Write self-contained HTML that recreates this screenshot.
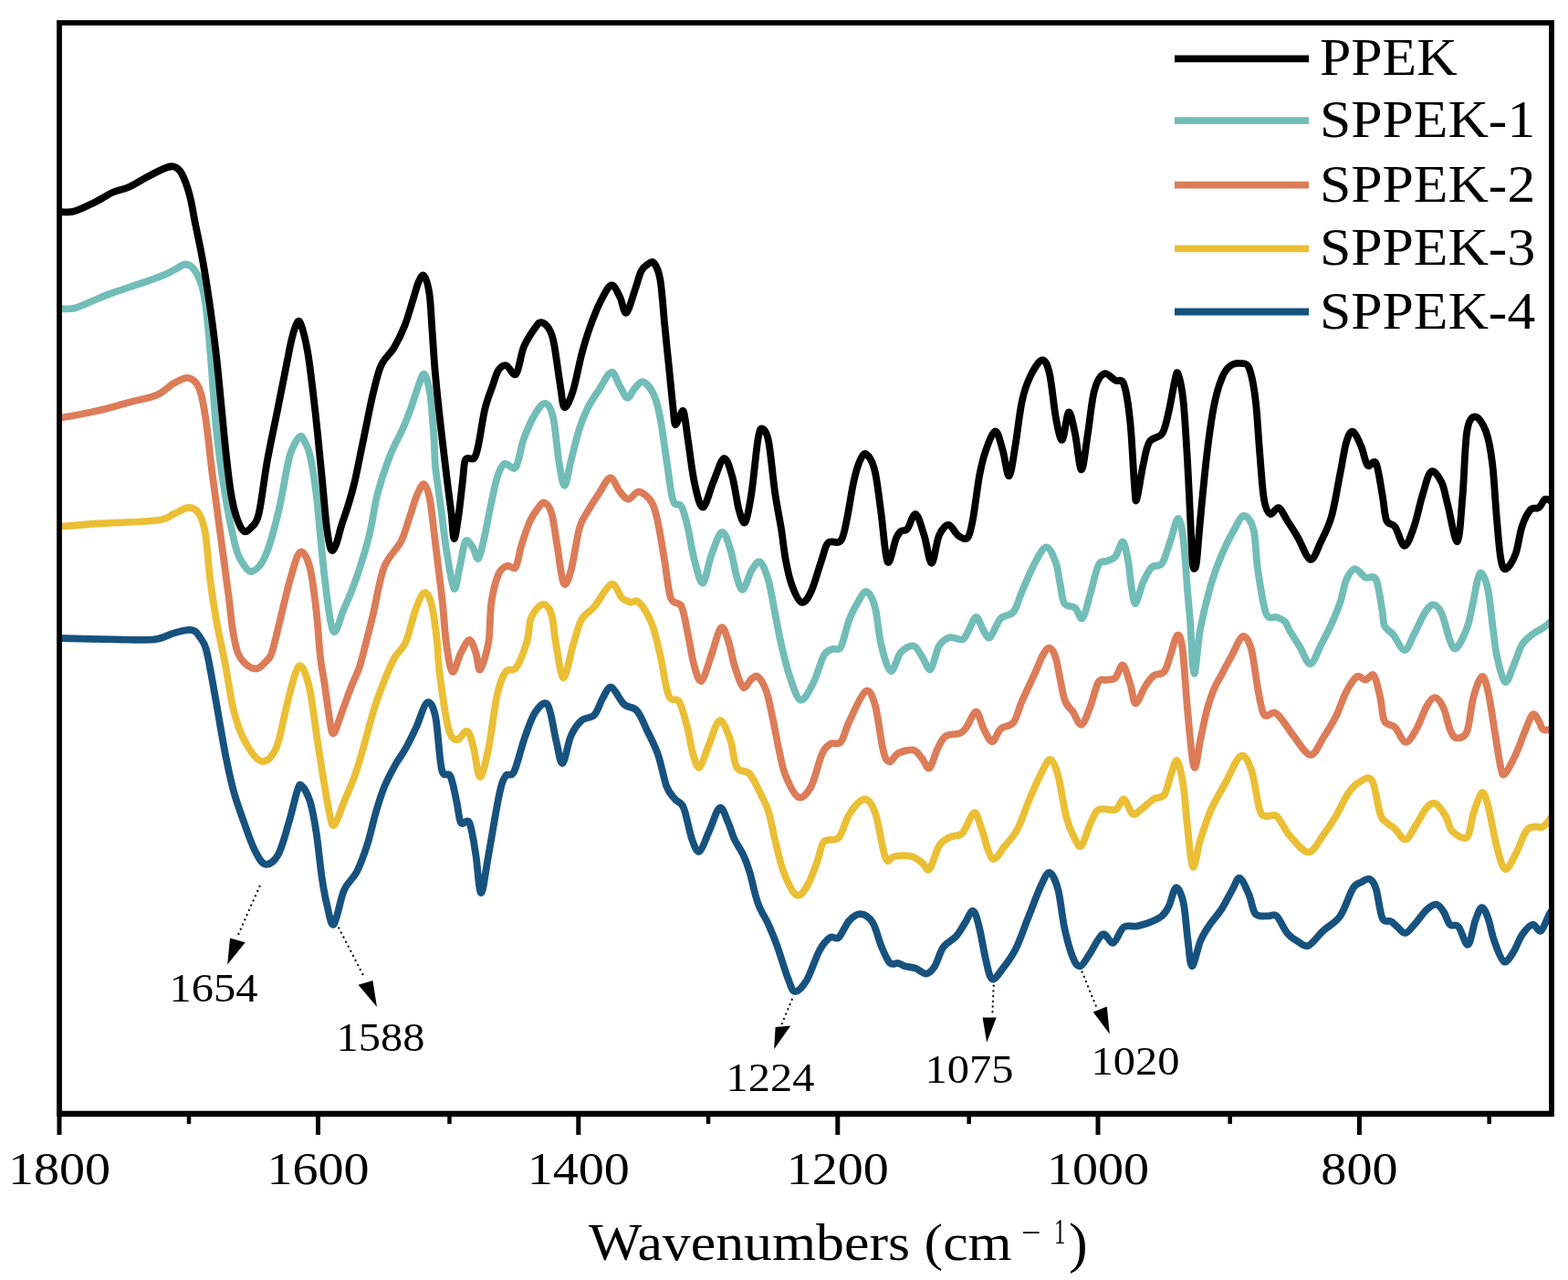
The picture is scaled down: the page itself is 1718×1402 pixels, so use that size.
<!DOCTYPE html><html><head><meta charset="utf-8"><style>html,body{margin:0;padding:0;background:#fff}svg{display:block}</style></head><body><svg width="1718" height="1402" viewBox="0 0 1718 1402">
<rect width="1718" height="1402" fill="#fff"/>
<defs><clipPath id="pc"><rect x="65" y="25" width="1635" height="1195"/></clipPath></defs>
<g clip-path="url(#pc)" fill="none" stroke-width="7.8" stroke-linejoin="round" stroke-linecap="round">
<path d="M65.0,699.0 C75.0,699.2 107.8,700.1 125.2,700.3 C142.6,700.5 158.5,701.4 169.4,700.3 C180.3,699.1 184.2,695.1 190.4,693.4 C196.6,691.7 202.8,690.2 206.7,689.9 C210.6,689.6 212.1,690.4 214.0,691.6 C215.9,692.8 216.4,693.8 218.3,696.9 C220.2,700.0 223.2,702.2 225.6,710.3 C228.0,718.3 230.3,732.8 232.6,745.2 C234.9,757.6 237.3,771.6 239.6,784.8 C241.9,798.0 243.9,810.8 246.6,824.4 C249.3,838.0 252.4,853.5 255.9,866.3 C259.4,879.1 263.6,890.3 267.5,901.2 C271.4,912.1 275.3,923.9 279.2,931.5 C283.1,939.1 286.5,945.8 290.8,946.6 C295.1,947.4 300.5,943.7 304.8,936.1 C309.1,928.5 312.9,912.8 316.4,901.2 C319.9,889.6 323.4,873.1 325.7,866.3 C328.0,859.5 328.1,858.5 330.4,860.4 C332.7,862.3 337.0,869.2 339.7,877.9 C342.4,886.6 344.6,899.1 346.7,912.8 C348.8,926.5 350.6,947.1 352.5,960.0 C354.4,972.9 355.8,981.2 358.0,990.0 C360.2,998.8 362.4,1015.1 365.6,1012.6 C368.8,1010.1 372.8,984.6 377.0,975.0 C381.2,965.4 386.7,963.1 391.0,954.7 C395.3,946.3 399.1,935.4 402.6,924.5 C406.1,913.6 408.8,900.0 411.9,889.5 C415.0,879.0 417.7,870.1 421.2,861.6 C424.7,853.1 428.9,845.3 432.8,838.3 C436.7,831.3 440.6,826.7 444.5,819.7 C448.4,812.7 452.2,804.8 456.1,796.4 C460.0,788.0 464.3,771.5 467.8,769.6 C471.3,767.7 474.4,772.6 477.1,784.8 C479.8,797.0 481.3,832.1 484.0,843.0 C486.7,853.9 490.7,844.2 493.4,850.0 C496.1,855.8 498.4,869.4 500.3,877.9 C502.2,886.4 502.7,897.3 505.0,901.2 C507.3,905.1 511.6,895.4 514.3,901.2 C517.0,907.0 519.2,923.3 521.3,936.1 C523.4,948.9 524.8,978.0 527.1,978.0 C529.4,978.0 532.0,954.0 535.3,936.1 C538.6,918.2 543.8,885.2 546.9,870.9 C550.0,856.5 551.2,854.3 553.9,850.0 C556.6,845.7 559.7,852.3 563.2,845.3 C566.7,838.3 571.0,818.9 574.9,808.0 C578.8,797.1 582.3,786.1 586.5,780.1 C590.7,774.1 596.2,766.9 600.0,772.0 C603.8,777.1 606.6,800.3 609.3,811.0 C612.0,821.7 613.6,836.8 616.3,836.0 C619.0,835.2 622.1,813.8 625.6,806.0 C629.1,798.2 633.0,792.8 637.3,789.0 C641.6,785.2 647.3,787.2 651.2,783.1 C655.1,779.0 657.4,769.5 660.5,764.5 C663.6,759.5 665.9,751.6 669.8,752.8 C673.7,754.0 679.1,767.2 683.8,771.5 C688.5,775.8 693.5,773.5 697.8,778.4 C702.1,783.3 705.5,792.9 709.4,801.0 C713.3,809.1 717.6,816.9 721.1,827.0 C724.6,837.1 727.3,853.4 730.4,861.5 C733.5,869.6 736.6,871.6 739.7,875.5 C742.8,879.4 745.9,877.4 749.0,884.8 C752.1,892.2 755.4,911.8 758.3,919.7 C761.2,927.7 763.4,934.0 766.5,932.5 C769.6,931.0 773.3,918.4 777.0,910.4 C780.7,902.4 785.1,886.3 788.6,884.8 C792.1,883.2 795.2,895.3 797.9,901.1 C800.6,906.9 802.2,913.9 804.9,919.7 C807.6,925.5 811.5,930.2 814.2,936.0 C816.9,941.8 818.5,945.7 821.2,954.6 C823.9,963.5 827.0,979.8 830.5,989.5 C834.0,999.2 838.6,1005.0 842.1,1012.8 C845.6,1020.6 848.0,1026.4 851.5,1036.1 C855.0,1045.8 859.9,1062.7 863.1,1071.0 C866.4,1079.3 867.5,1085.6 871.0,1086.0 C874.5,1086.4 879.5,1080.9 884.0,1073.4 C888.5,1065.9 893.7,1048.6 898.0,1040.8 C902.3,1033.0 906.2,1029.1 909.7,1026.8 C913.2,1024.5 915.5,1029.9 919.0,1026.8 C922.5,1023.7 926.5,1012.5 930.6,1008.2 C934.7,1003.9 939.1,1000.8 943.4,1001.2 C947.7,1001.6 952.5,1004.7 956.2,1010.5 C959.9,1016.3 962.4,1028.7 965.5,1036.1 C968.6,1043.5 971.8,1051.5 974.9,1054.7 C978.0,1057.9 981.4,1054.4 984.2,1055.0 C987.0,1055.6 988.4,1057.3 991.6,1058.3 C994.8,1059.2 999.4,1059.3 1003.3,1060.7 C1007.2,1062.1 1011.4,1066.9 1014.9,1066.5 C1018.4,1066.1 1021.1,1063.1 1024.2,1058.3 C1027.3,1053.5 1029.7,1042.8 1033.6,1037.4 C1037.5,1032.0 1043.6,1030.0 1047.5,1025.7 C1051.4,1021.4 1053.7,1016.4 1056.8,1011.8 C1059.9,1007.1 1063.4,997.0 1066.1,997.8 C1068.8,998.6 1070.8,1007.5 1073.1,1016.4 C1075.4,1025.3 1077.8,1042.0 1080.1,1051.3 C1082.4,1060.6 1084.0,1070.7 1087.1,1072.3 C1090.2,1073.9 1094.4,1066.1 1098.7,1060.7 C1103.0,1055.3 1108.0,1049.0 1112.7,1039.7 C1117.4,1030.4 1122.0,1016.4 1126.7,1004.8 C1131.4,993.1 1136.8,977.9 1140.7,969.8 C1144.6,961.6 1146.9,955.1 1150.0,955.9 C1153.1,956.7 1156.6,964.4 1159.3,974.5 C1162.0,984.6 1163.6,1004.0 1166.3,1016.4 C1169.0,1028.8 1172.7,1042.0 1175.6,1049.0 C1178.5,1056.0 1180.6,1059.1 1183.7,1058.3 C1186.8,1057.5 1190.1,1050.2 1194.2,1044.4 C1198.3,1038.6 1203.9,1025.3 1208.2,1023.4 C1212.5,1021.4 1215.9,1034.0 1219.8,1032.7 C1223.7,1031.4 1226.8,1018.4 1231.5,1015.3 C1236.2,1012.2 1241.1,1015.9 1247.7,1014.1 C1254.3,1012.4 1265.5,1008.3 1271.0,1004.8 C1276.5,1001.3 1277.5,998.5 1280.4,993.1 C1283.3,987.7 1285.8,973.0 1288.5,972.2 C1291.2,971.4 1294.5,979.2 1296.6,988.5 C1298.7,997.8 1299.7,1016.4 1301.3,1028.0 C1302.9,1039.6 1303.7,1057.9 1306.0,1058.3 C1308.3,1058.7 1312.2,1037.8 1315.3,1030.4 C1318.4,1023.0 1320.7,1019.9 1324.6,1014.1 C1328.5,1008.3 1334.3,1002.1 1338.6,995.5 C1342.9,988.9 1346.9,980.1 1350.2,974.5 C1353.5,968.9 1355.2,960.8 1358.3,961.7 C1361.4,962.7 1365.7,973.6 1368.6,980.2 C1371.5,986.8 1372.1,997.2 1375.6,1001.1 C1379.1,1005.0 1385.6,1003.0 1389.5,1003.4 C1393.4,1003.8 1395.3,1000.3 1398.8,1003.4 C1402.3,1006.5 1406.4,1017.3 1410.3,1021.9 C1414.2,1026.5 1418.0,1028.9 1421.9,1031.2 C1425.8,1033.5 1428.9,1037.7 1433.5,1035.8 C1438.1,1033.9 1443.9,1025.0 1449.7,1019.6 C1455.5,1014.2 1462.9,1011.1 1468.3,1003.4 C1473.7,995.7 1478.3,979.5 1482.2,973.3 C1486.1,967.1 1488.3,968.0 1491.4,966.3 C1494.5,964.6 1498.0,961.7 1500.7,962.9 C1503.4,964.1 1505.3,966.2 1507.6,973.3 C1509.9,980.4 1511.9,999.7 1514.6,1005.7 C1517.3,1011.7 1521.2,1007.7 1523.9,1009.2 C1526.6,1010.8 1528.1,1012.9 1530.8,1015.0 C1533.5,1017.1 1536.6,1022.7 1540.1,1021.9 C1543.6,1021.1 1547.8,1014.5 1551.7,1010.3 C1555.6,1006.0 1559.5,999.7 1563.2,996.4 C1566.9,993.1 1570.6,990.3 1573.7,990.7 C1576.8,991.1 1579.3,995.1 1581.8,998.8 C1584.3,1002.5 1586.0,1010.0 1588.7,1012.7 C1591.4,1015.4 1594.7,1011.3 1598.0,1015.0 C1601.3,1018.7 1605.3,1035.9 1608.4,1034.7 C1611.5,1033.5 1614.0,1014.8 1616.5,1008.0 C1619.0,1001.2 1621.2,994.5 1623.5,994.1 C1625.8,993.7 1628.1,999.5 1630.4,1005.7 C1632.7,1011.9 1634.5,1023.3 1637.4,1031.2 C1640.3,1039.1 1644.3,1051.3 1647.8,1053.2 C1651.3,1055.1 1654.9,1047.6 1658.2,1042.8 C1661.5,1038.0 1664.0,1029.2 1667.5,1024.2 C1671.0,1019.2 1675.6,1013.5 1679.1,1012.7 C1682.6,1011.9 1685.2,1021.5 1688.3,1019.6 C1691.4,1017.7 1695.6,1004.7 1697.6,1001.1 C1699.5,997.5 1699.6,998.5 1700.0,998.0" stroke="#17527f"/>
<path d="M65.0,577.0 C71.9,576.4 88.8,574.7 106.6,573.5 C124.4,572.3 157.8,571.8 171.8,570.0 C185.8,568.2 184.6,565.3 190.4,563.0 C196.2,560.7 202.0,556.0 206.7,556.0 C211.3,556.0 215.2,558.0 218.3,563.0 C221.4,568.0 223.4,574.7 225.3,586.3 C227.2,597.9 228.1,617.3 230.0,632.8 C231.9,648.3 234.2,663.8 237.0,679.4 C239.8,695.0 243.4,710.2 246.6,726.6 C249.8,743.0 252.4,763.8 255.9,777.8 C259.4,791.8 262.5,801.1 267.5,810.4 C272.5,819.7 280.3,832.2 286.1,833.7 C291.9,835.2 297.7,829.8 302.4,819.7 C307.1,809.6 310.6,786.7 314.1,773.1 C317.6,759.5 320.7,745.4 323.4,738.2 C326.1,731.0 327.7,727.0 330.4,730.1 C333.1,733.2 336.6,741.9 339.7,756.8 C342.8,771.7 345.5,797.6 349.0,819.7 C352.5,841.8 357.8,875.5 360.7,889.5 C363.6,903.5 363.8,905.4 366.5,903.5 C369.2,901.6 373.3,886.8 377.0,877.9 C380.7,869.0 385.1,859.7 388.6,850.0 C392.1,840.3 394.4,831.7 397.9,819.7 C401.4,807.7 405.6,790.2 409.5,777.8 C413.4,765.4 417.4,754.8 421.2,745.2 C425.0,735.6 428.6,727.0 432.5,720.0 C436.4,713.0 440.7,711.9 444.5,703.3 C448.3,694.7 451.8,677.3 455.1,668.3 C458.4,659.3 461.6,650.8 464.5,649.5 C467.4,648.2 470.0,652.1 472.4,660.5 C474.8,668.9 477.1,687.0 478.6,700.0 C480.2,713.0 479.6,722.1 481.7,738.2 C483.8,754.3 487.9,784.4 491.0,796.4 C494.1,808.4 496.8,809.6 500.3,810.4 C503.8,811.2 508.9,799.5 512.0,801.0 C515.1,802.5 516.7,811.4 519.0,819.7 C521.3,828.1 523.3,851.1 526.0,851.1 C528.7,851.1 532.2,834.6 535.3,819.7 C538.4,804.8 541.5,775.5 544.6,761.5 C547.7,747.5 550.4,740.9 553.9,735.9 C557.4,730.9 561.6,736.6 565.5,731.2 C569.4,725.8 574.4,712.5 577.2,703.3 C580.0,694.1 579.3,683.0 582.2,676.1 C585.1,669.2 591.1,662.5 594.8,662.0 C598.5,661.5 601.8,665.6 604.2,673.0 C606.6,680.4 607.1,694.7 609.3,706.3 C611.5,717.9 614.4,742.4 617.5,742.4 C620.6,742.4 624.6,717.0 627.9,706.3 C631.2,695.6 633.4,685.3 637.3,678.3 C641.2,671.3 645.8,670.8 651.2,664.4 C656.6,658.0 664.8,641.5 669.8,639.9 C674.8,638.3 678.0,651.7 681.5,655.0 C685.0,658.3 687.7,658.9 690.8,659.7 C693.9,660.5 696.2,655.8 700.1,659.7 C704.0,663.6 710.2,673.3 714.1,683.0 C718.0,692.7 720.3,704.7 723.4,717.9 C726.5,731.1 729.2,753.6 732.7,762.1 C736.2,770.6 740.9,762.9 744.4,769.1 C747.9,775.3 751.3,790.1 753.7,799.4 C756.1,808.7 756.9,818.1 759.0,825.0 C761.1,831.9 763.5,842.2 766.5,840.5 C769.5,838.8 773.3,823.4 777.0,814.9 C780.7,806.4 784.7,790.1 788.6,789.3 C792.5,788.5 797.1,801.8 800.2,810.3 C803.3,818.8 803.7,834.3 807.2,840.5 C810.7,846.7 816.9,842.8 821.2,847.5 C825.5,852.2 829.3,861.5 832.8,868.5 C836.3,875.5 839.4,880.9 842.1,889.4 C844.8,897.9 846.4,908.8 849.1,919.7 C851.8,930.6 854.5,944.5 858.4,954.6 C862.3,964.7 868.1,977.5 872.4,980.2 C876.7,982.9 880.1,977.1 884.0,970.9 C887.9,964.7 892.6,951.1 895.7,943.0 C898.8,934.9 898.8,926.3 902.7,922.0 C906.6,917.7 914.4,922.4 919.0,917.4 C923.6,912.4 926.0,898.8 930.6,891.8 C935.2,884.8 942.2,875.9 946.9,875.5 C951.6,875.1 955.1,880.1 958.6,889.4 C962.1,898.7 965.6,922.4 967.9,931.3 C970.2,940.2 970.5,941.9 972.5,943.0 C974.5,944.1 975.6,938.8 980.0,938.0 C984.4,937.2 993.6,936.8 998.6,938.0 C1003.6,939.2 1007.0,942.7 1010.3,945.0 C1013.6,947.3 1015.3,955.1 1018.4,952.0 C1021.5,948.9 1025.2,932.2 1028.9,926.4 C1032.6,920.6 1036.2,919.4 1040.5,917.1 C1044.8,914.8 1050.0,916.9 1054.5,912.4 C1059.0,907.9 1063.8,891.1 1067.3,890.3 C1070.8,889.5 1072.2,899.5 1075.5,907.8 C1078.8,916.1 1082.8,937.2 1087.1,940.3 C1091.4,943.4 1096.4,931.8 1101.1,926.4 C1105.8,921.0 1110.3,916.7 1115.0,907.8 C1119.7,898.9 1124.3,883.7 1129.0,872.8 C1133.7,861.9 1139.3,849.4 1143.0,842.6 C1146.7,835.8 1148.4,831.0 1151.1,832.1 C1153.8,833.2 1156.4,838.8 1159.3,849.5 C1162.2,860.2 1165.5,884.5 1168.6,896.1 C1171.7,907.8 1175.2,914.4 1177.9,919.4 C1180.6,924.4 1182.2,929.1 1184.9,926.4 C1187.6,923.7 1191.1,909.7 1194.2,903.1 C1197.3,896.5 1198.8,889.5 1203.5,886.8 C1208.2,884.1 1217.4,888.7 1222.1,886.8 C1226.8,884.9 1228.4,874.4 1231.5,875.2 C1234.6,876.0 1237.7,889.6 1240.8,891.5 C1243.9,893.4 1246.2,889.5 1250.1,886.8 C1254.0,884.1 1259.7,877.9 1264.0,875.2 C1268.3,872.5 1272.6,874.8 1275.7,870.5 C1278.8,866.2 1280.4,855.7 1282.7,849.5 C1285.0,843.3 1287.4,831.2 1289.7,833.2 C1292.0,835.2 1294.7,848.8 1296.6,861.2 C1298.5,873.6 1299.5,893.0 1301.3,907.8 C1303.0,922.5 1304.8,947.8 1307.1,949.7 C1309.4,951.6 1312.0,929.9 1315.3,919.4 C1318.6,908.9 1322.2,897.3 1326.9,886.8 C1331.6,876.3 1337.8,866.3 1343.2,856.5 C1348.6,846.7 1354.8,830.1 1359.5,828.0 C1364.2,825.9 1367.8,834.2 1371.2,844.0 C1374.7,853.8 1377.5,878.7 1380.2,887.0 C1382.9,895.3 1384.1,892.8 1387.2,894.0 C1390.3,895.2 1394.5,890.5 1398.8,894.0 C1403.0,897.5 1406.9,908.2 1412.7,914.8 C1418.5,921.4 1427.3,933.4 1433.5,933.4 C1439.7,933.4 1444.7,921.4 1449.7,914.8 C1454.7,908.2 1459.0,901.7 1463.6,894.0 C1468.2,886.3 1473.2,874.7 1477.5,868.5 C1481.8,862.3 1484.8,859.2 1489.1,856.9 C1493.3,854.6 1499.1,848.8 1503.0,854.6 C1506.9,860.4 1509.6,884.0 1512.3,891.7 C1515.0,899.4 1516.5,898.2 1519.2,900.9 C1521.9,903.6 1525.0,904.8 1528.5,907.9 C1532.0,911.0 1536.2,920.3 1540.1,919.5 C1544.0,918.7 1547.8,909.0 1551.7,903.2 C1555.6,897.4 1559.7,888.6 1563.2,884.7 C1566.7,880.9 1569.0,878.6 1572.5,880.1 C1576.0,881.6 1581.0,889.0 1584.1,894.0 C1587.2,899.0 1587.1,906.4 1591.0,910.2 C1594.9,914.1 1603.4,920.2 1607.3,917.1 C1611.2,914.0 1611.5,899.8 1614.2,891.7 C1616.9,883.6 1620.8,870.0 1623.5,868.5 C1626.2,867.0 1627.7,872.8 1630.4,882.4 C1633.1,892.0 1636.6,914.8 1639.7,926.4 C1642.8,938.0 1645.5,950.3 1649.0,951.9 C1652.5,953.5 1656.7,942.7 1660.5,935.7 C1664.3,928.8 1668.6,915.2 1672.1,910.2 C1675.6,905.2 1678.3,906.4 1681.4,905.6 C1684.5,904.8 1687.6,907.4 1690.7,905.6 C1693.8,903.8 1698.5,896.8 1700.0,895.0" stroke="#ebbf35"/>
<path d="M65.0,458.0 C71.9,456.7 93.8,452.9 106.6,450.0 C119.3,447.1 130.6,443.6 141.5,440.7 C152.4,437.8 163.7,436.1 171.8,432.6 C180.0,429.1 184.6,422.9 190.4,419.8 C196.2,416.7 202.0,413.0 206.7,414.0 C211.3,415.0 215.2,418.2 218.3,425.6 C221.4,433.0 223.0,443.1 225.3,458.2 C227.6,473.3 229.6,495.0 232.3,516.4 C235.0,537.8 238.5,563.0 241.6,586.3 C244.7,609.6 248.7,638.8 250.9,656.1 C253.1,673.4 253.4,680.2 255.0,690.0 C256.6,699.8 258.0,708.6 260.5,714.9 C263.0,721.2 266.5,725.1 270.0,728.0 C273.5,730.9 278.0,732.9 281.5,732.4 C285.0,731.9 288.3,727.9 291.0,725.0 C293.7,722.1 295.2,722.5 297.8,714.9 C300.4,707.3 303.4,693.1 306.8,679.4 C310.2,665.7 314.7,645.2 318.4,632.8 C322.1,620.4 325.4,606.8 328.9,604.9 C332.4,603.0 336.5,610.7 339.4,621.2 C342.3,631.7 344.5,651.2 346.4,667.7 C348.3,684.2 349.6,707.1 351.0,720.0 C352.4,732.9 353.4,734.2 355.0,745.0 C356.6,755.8 359.0,775.1 360.7,784.8 C362.4,794.5 363.0,804.2 365.3,803.4 C367.6,802.6 371.5,788.2 374.6,780.1 C377.7,772.0 380.7,762.9 383.9,754.5 C387.1,746.1 391.0,739.1 394.0,730.0 C397.0,720.9 399.5,709.7 402.0,700.0 C404.5,690.3 405.9,685.1 409.0,672.0 C412.1,658.9 415.8,634.4 420.9,621.2 C426.0,608.0 434.8,602.1 439.4,593.0 C444.0,583.9 445.9,574.7 448.8,566.3 C451.7,557.9 454.1,548.8 456.7,542.8 C459.3,536.8 462.1,529.7 464.5,530.2 C466.9,530.7 469.0,537.3 470.8,545.9 C472.6,554.5 473.9,569.5 475.5,582.0 C477.1,594.5 478.6,608.1 480.2,621.2 C481.8,634.3 483.4,646.5 484.9,660.5 C486.4,674.5 487.2,692.4 489.0,705.0 C490.8,717.6 493.0,734.2 495.7,735.9 C498.4,737.5 501.9,720.7 505.0,714.9 C508.1,709.1 511.6,701.0 514.3,701.0 C517.0,701.0 519.3,709.5 521.3,714.9 C523.2,720.3 523.7,735.5 526.0,733.6 C528.3,731.7 533.2,715.5 535.3,703.3 C537.3,691.1 536.5,672.9 538.3,660.5 C540.1,648.1 543.2,635.9 546.1,629.1 C549.0,622.3 552.4,621.0 555.5,619.7 C558.6,618.4 562.4,624.9 565.0,621.2 C567.6,617.5 568.6,606.1 571.2,597.7 C573.8,589.3 577.5,578.0 580.6,571.0 C583.7,564.0 587.4,559.4 590.0,556.0 C592.6,552.6 593.9,549.7 596.3,550.6 C598.7,551.5 601.8,553.8 604.2,561.6 C606.6,569.5 608.3,584.9 610.5,597.7 C612.7,610.6 615.0,634.2 617.5,638.7 C620.0,643.2 622.7,634.9 625.6,624.8 C628.5,614.7 631.8,589.1 634.9,578.2 C638.0,567.3 640.7,565.8 644.2,559.6 C647.7,553.4 651.8,547.0 655.9,541.0 C660.0,535.0 664.8,523.9 668.7,523.5 C672.6,523.1 675.9,534.7 679.2,538.6 C682.5,542.5 685.0,546.8 688.5,546.8 C692.0,546.8 695.8,538.0 700.1,538.6 C704.4,539.2 710.6,544.5 714.1,550.3 C717.6,556.1 718.8,563.1 721.1,573.6 C723.4,584.1 725.7,599.5 728.0,613.1 C730.3,626.7 731.9,646.5 735.0,655.0 C738.1,663.5 743.6,657.8 746.7,664.4 C749.8,671.0 751.4,683.8 753.7,694.6 C756.0,705.5 758.2,721.0 760.7,729.5 C763.2,738.0 765.7,747.7 768.8,745.8 C771.9,743.9 775.8,727.6 779.3,717.9 C782.8,708.2 786.7,690.3 789.8,687.6 C792.9,684.9 795.4,694.6 797.9,701.6 C800.4,708.6 802.2,721.0 804.9,729.5 C807.6,738.0 811.1,750.5 814.2,752.8 C817.3,755.1 820.8,745.4 823.5,743.5 C826.2,741.6 827.8,738.9 830.5,741.2 C833.2,743.5 837.1,749.8 839.8,757.5 C842.5,765.2 844.5,776.8 846.8,787.7 C849.1,798.6 851.5,812.4 853.8,822.7 C856.1,833.1 857.3,841.4 860.8,849.8 C864.3,858.2 870.1,871.1 874.7,873.1 C879.4,875.1 884.4,869.2 888.7,861.5 C893.0,853.8 896.8,834.4 900.3,826.6 C903.8,818.8 906.2,817.2 909.7,814.9 C913.2,812.6 917.8,816.8 921.3,812.6 C924.8,808.5 926.1,799.2 930.6,790.0 C935.1,780.8 943.4,760.6 948.1,757.5 C952.8,754.4 955.3,760.6 958.6,771.5 C961.9,782.4 965.2,812.2 967.9,822.7 C970.6,833.2 972.2,833.9 974.9,834.3 C977.6,834.7 979.9,827.1 984.2,825.0 C988.6,822.9 996.6,820.6 1001.0,821.6 C1005.4,822.6 1007.4,827.6 1010.3,830.9 C1013.2,834.2 1015.7,842.9 1018.4,841.4 C1021.1,839.9 1023.7,827.4 1026.6,821.6 C1029.5,815.8 1031.6,809.6 1035.9,806.5 C1040.2,803.4 1048.3,804.8 1052.2,803.0 C1056.1,801.2 1056.3,799.9 1059.2,796.0 C1062.1,792.1 1066.5,779.3 1069.6,779.7 C1072.7,780.1 1074.9,792.9 1077.8,798.3 C1080.7,803.7 1084.0,812.3 1087.1,812.3 C1090.2,812.3 1092.5,801.8 1096.4,798.3 C1100.3,794.8 1106.5,796.3 1110.4,791.3 C1114.3,786.3 1115.8,777.0 1119.7,768.1 C1123.6,759.2 1129.8,746.3 1133.7,737.8 C1137.6,729.2 1140.3,721.5 1143.0,716.8 C1145.7,712.1 1147.7,709.0 1150.0,709.8 C1152.3,710.6 1154.3,712.2 1157.0,721.5 C1159.7,730.8 1163.2,756.0 1166.3,765.7 C1169.4,775.4 1172.5,775.0 1175.6,779.7 C1178.7,784.4 1181.8,794.5 1184.9,793.7 C1188.0,792.9 1191.1,782.8 1194.2,775.0 C1197.3,767.2 1200.4,752.1 1203.5,747.1 C1206.6,742.1 1209.7,745.6 1212.8,744.8 C1215.9,744.0 1219.2,745.1 1222.1,742.4 C1225.0,739.7 1227.6,727.3 1230.3,728.5 C1233.0,729.7 1236.1,742.4 1238.4,749.4 C1240.7,756.4 1241.6,770.0 1244.3,770.4 C1247.0,770.8 1251.4,756.8 1254.7,751.8 C1258.0,746.8 1260.5,742.8 1264.0,740.1 C1267.5,737.4 1272.6,739.4 1275.7,735.5 C1278.8,731.6 1280.4,723.4 1282.7,716.8 C1285.0,710.2 1287.6,697.1 1289.7,695.9 C1291.8,694.7 1293.6,695.8 1295.5,709.8 C1297.4,723.8 1299.2,758.0 1301.3,779.7 C1303.4,801.4 1306.0,835.2 1308.3,840.2 C1310.6,845.2 1313.0,820.4 1315.3,810.0 C1317.6,799.6 1319.8,787.2 1322.3,778.0 C1324.8,768.8 1327.3,761.5 1330.0,755.0 C1332.7,748.5 1335.1,745.2 1338.5,738.8 C1341.9,732.4 1346.3,723.8 1350.2,716.8 C1354.1,709.8 1358.2,698.0 1361.7,697.0 C1365.2,696.0 1368.3,701.7 1371.0,711.0 C1373.7,720.3 1375.6,740.7 1377.9,752.7 C1380.2,764.7 1381.8,778.2 1384.9,782.8 C1388.0,787.4 1392.9,779.4 1396.4,780.5 C1399.9,781.6 1402.2,785.5 1405.7,789.7 C1409.2,794.0 1412.3,799.8 1417.3,806.0 C1422.3,812.2 1430.4,826.4 1435.8,826.8 C1441.2,827.2 1445.1,815.2 1449.7,808.3 C1454.3,801.3 1459.3,793.6 1463.6,785.1 C1467.8,776.6 1471.3,764.6 1475.2,757.3 C1479.1,750.0 1483.3,743.2 1486.8,741.1 C1490.3,739.0 1493.0,744.8 1496.1,744.6 C1499.2,744.4 1502.6,736.6 1505.3,739.9 C1508.0,743.2 1510.4,755.9 1512.3,764.2 C1514.2,772.5 1514.2,784.3 1516.9,789.7 C1519.6,795.1 1524.6,792.8 1528.5,796.7 C1532.4,800.6 1536.2,812.5 1540.1,812.9 C1544.0,813.3 1547.8,805.6 1551.7,799.0 C1555.6,792.4 1559.7,779.3 1563.2,773.5 C1566.7,767.7 1569.4,763.8 1572.5,764.2 C1575.6,764.6 1579.1,770.0 1581.8,775.8 C1584.5,781.6 1586.4,793.6 1588.7,799.0 C1591.0,804.4 1592.6,807.9 1595.7,808.3 C1598.8,808.7 1604.2,808.6 1607.3,801.3 C1610.4,793.9 1611.5,774.2 1614.2,764.2 C1616.9,754.2 1620.8,742.2 1623.5,741.1 C1626.2,740.0 1628.1,747.6 1630.4,757.3 C1632.7,766.9 1635.1,785.1 1637.4,799.0 C1639.7,812.9 1642.4,832.6 1644.3,840.7 C1646.2,848.8 1646.3,849.9 1649.0,847.6 C1651.7,845.3 1657.0,834.1 1660.5,826.8 C1664.0,819.5 1666.7,810.9 1669.8,803.6 C1672.9,796.3 1676.4,785.1 1679.1,782.8 C1681.8,780.5 1684.1,787.0 1686.0,789.7 C1687.9,792.4 1688.4,797.5 1690.7,799.0 C1693.0,800.5 1698.5,799.0 1700.0,799.0" stroke="#dc7c58"/>
<path d="M65.0,338.0 C67.7,337.9 75.1,339.1 81.4,337.6 C87.7,336.1 95.7,331.9 102.8,329.0 C109.9,326.1 115.3,323.7 124.2,320.5 C133.1,317.3 147.0,313.0 156.3,309.8 C165.6,306.6 173.9,303.7 179.8,301.2 C185.8,298.7 188.1,296.9 192.0,295.0 C195.9,293.1 199.7,289.2 203.4,289.5 C207.1,289.8 210.8,292.2 214.0,297.0 C217.2,301.8 220.4,309.8 222.6,318.4 C224.8,326.9 225.6,335.5 227.0,348.3 C228.4,361.1 229.5,375.1 231.2,395.4 C232.9,415.6 234.5,445.8 237.0,469.8 C239.5,493.9 242.8,518.4 246.3,539.7 C249.8,561.1 254.6,585.0 257.9,597.9 C261.2,610.8 262.9,612.4 266.0,617.0 C269.1,621.6 272.4,627.0 276.5,625.8 C280.6,624.5 285.8,620.0 290.5,609.5 C295.2,599.0 300.2,580.5 304.5,563.0 C308.8,545.5 313.2,517.3 316.1,504.8 C319.0,492.3 319.9,492.5 322.0,488.0 C324.1,483.5 327.1,479.0 328.9,478.0 C330.7,477.0 331.2,478.7 333.0,482.0 C334.8,485.3 337.2,488.2 339.4,497.8 C341.6,507.4 343.7,517.2 346.4,539.7 C349.1,562.2 352.6,607.6 355.7,632.8 C358.8,658.0 361.5,685.2 365.0,691.0 C368.5,696.8 372.3,677.4 376.6,667.7 C380.9,658.0 385.9,646.4 390.6,632.8 C395.3,619.2 400.7,601.8 404.6,586.3 C408.5,570.8 410.0,554.5 413.9,539.7 C417.8,525.0 423.3,509.5 427.9,497.8 C432.5,486.1 437.6,477.9 441.3,469.7 C445.0,461.4 447.0,456.1 449.8,448.3 C452.6,440.5 455.9,429.0 458.4,422.6 C460.9,416.2 462.7,408.4 464.8,409.8 C466.9,411.2 469.4,419.5 471.2,431.2 C473.0,442.9 474.5,466.6 475.5,480.0 C476.5,493.4 475.8,498.3 477.1,511.4 C478.4,524.5 481.3,542.8 483.4,558.5 C485.5,574.2 487.2,591.1 489.6,605.5 C492.0,619.9 495.1,642.2 497.5,644.8 C499.9,647.4 501.6,629.8 503.7,621.2 C505.8,612.6 507.6,596.6 510.0,593.0 C512.4,589.4 515.5,596.2 517.9,599.3 C520.2,602.4 522.0,613.4 524.1,611.8 C526.2,610.2 528.3,598.7 530.4,589.8 C532.5,580.9 534.4,569.5 536.7,558.5 C539.1,547.5 541.9,532.3 544.5,523.9 C547.1,515.5 549.2,510.0 552.4,508.2 C555.5,506.4 560.8,513.8 563.4,513.0 C566.0,512.2 566.3,508.9 568.1,503.5 C569.9,498.1 570.9,488.9 574.0,480.4 C577.1,471.9 582.9,459.0 586.8,452.6 C590.7,446.2 594.3,441.2 597.5,441.9 C600.7,442.6 603.5,446.2 606.0,456.9 C608.5,467.6 610.4,493.6 612.5,506.1 C614.6,518.6 616.4,532.1 618.6,531.8 C620.8,531.5 622.9,514.9 625.6,504.5 C628.3,494.1 631.8,479.2 634.9,469.5 C638.0,459.8 640.7,453.3 644.2,446.3 C647.7,439.3 651.6,434.0 655.9,427.6 C660.2,421.2 665.9,408.6 669.8,407.8 C673.7,407.0 676.3,418.3 679.2,423.0 C682.1,427.7 684.6,435.4 687.3,435.8 C690.0,436.2 692.6,428.2 695.5,425.3 C698.4,422.4 701.3,417.1 704.8,418.3 C708.3,419.5 713.3,425.7 716.4,432.3 C719.5,438.9 721.1,445.9 723.4,457.9 C725.7,469.9 728.1,489.5 730.4,504.5 C732.7,519.5 734.7,539.6 737.4,548.0 C740.1,556.4 744.0,549.9 746.7,554.9 C749.4,559.9 751.4,568.5 753.7,578.2 C756.0,587.9 758.0,603.0 760.7,613.1 C763.4,623.2 766.9,639.5 770.0,638.7 C773.1,637.9 775.8,617.8 779.3,608.5 C782.8,599.2 787.4,584.1 790.9,582.9 C794.4,581.7 797.5,593.4 800.2,601.5 C802.9,609.6 804.9,624.4 807.2,631.8 C809.5,639.2 811.5,646.9 814.2,645.7 C816.9,644.5 820.4,629.8 823.5,624.8 C826.6,619.8 829.7,613.6 832.8,615.5 C835.9,617.4 839.4,627.1 842.1,636.4 C844.8,645.7 846.8,659.6 849.1,671.3 C851.4,682.9 853.4,694.6 856.1,706.3 C858.8,717.9 861.9,731.1 865.4,741.2 C868.9,751.3 872.8,765.6 877.1,766.8 C881.4,768.0 886.7,756.4 891.0,748.2 C895.3,740.1 899.2,724.1 902.7,717.9 C906.2,711.7 908.9,712.4 912.0,710.9 C915.1,709.4 918.2,714.0 921.3,708.6 C924.4,703.2 927.5,686.4 930.6,678.3 C933.7,670.1 936.8,664.8 939.9,659.7 C943.0,654.7 946.1,647.2 949.2,648.0 C952.3,648.8 955.9,654.7 958.6,664.4 C961.3,674.1 962.6,694.5 965.5,706.3 C968.4,718.1 972.4,733.6 976.0,735.0 C979.6,736.4 982.8,719.1 987.0,714.5 C991.2,709.9 997.1,706.7 1001.0,707.5 C1004.9,708.3 1007.2,714.9 1010.3,719.2 C1013.4,723.5 1016.5,735.1 1019.6,733.1 C1022.7,731.1 1025.4,713.3 1028.9,707.5 C1032.4,701.7 1036.2,699.4 1040.5,698.2 C1044.8,697.0 1051.0,701.9 1054.5,700.5 C1058.0,699.1 1059.0,694.1 1061.5,690.0 C1064.0,685.9 1066.9,675.8 1069.6,676.0 C1072.3,676.2 1075.3,687.3 1077.8,691.0 C1080.3,694.7 1081.7,700.3 1084.8,698.0 C1087.9,695.7 1092.1,681.9 1096.4,677.3 C1100.7,672.7 1106.5,675.2 1110.4,670.3 C1114.3,665.4 1115.8,656.9 1119.7,648.0 C1123.6,639.1 1129.2,624.9 1133.7,616.8 C1138.2,608.7 1142.6,599.3 1146.5,599.3 C1150.4,599.3 1154.5,610.0 1157.0,616.8 C1159.5,623.6 1160.0,632.6 1161.6,640.0 C1163.1,647.4 1163.6,656.7 1166.3,661.0 C1169.0,665.3 1174.6,663.0 1177.9,665.7 C1181.2,668.4 1183.3,679.6 1186.0,677.3 C1188.7,675.0 1191.3,661.7 1194.2,652.0 C1197.1,642.3 1200.4,625.4 1203.5,619.1 C1206.6,612.9 1209.7,616.0 1212.8,614.5 C1215.9,613.0 1219.2,613.3 1222.1,609.8 C1225.0,606.3 1228.0,592.7 1230.3,593.5 C1232.6,594.3 1234.5,605.9 1236.1,614.5 C1237.7,623.1 1238.6,637.2 1240.0,645.0 C1241.4,652.8 1242.2,662.2 1244.3,661.0 C1246.4,659.8 1249.5,644.4 1252.4,637.8 C1255.3,631.2 1258.2,625.0 1261.7,621.5 C1265.2,618.0 1269.9,621.8 1273.4,616.8 C1276.9,611.8 1279.8,599.4 1282.7,591.2 C1285.6,583.1 1288.5,567.9 1290.8,567.9 C1293.1,567.9 1294.8,577.6 1296.6,591.2 C1298.3,604.8 1300.1,634.6 1301.3,649.4 C1302.5,664.2 1302.8,665.3 1304.0,680.0 C1305.2,694.7 1306.4,736.5 1308.3,737.8 C1310.2,739.1 1312.2,704.3 1315.3,688.0 C1318.4,671.7 1323.0,653.4 1326.9,640.0 C1330.8,626.6 1334.3,617.6 1338.6,607.5 C1342.9,597.4 1348.4,586.6 1352.5,579.5 C1356.6,572.4 1359.5,564.9 1363.0,565.0 C1366.5,565.1 1371.0,570.3 1373.5,580.0 C1376.0,589.7 1375.7,607.7 1378.0,623.0 C1380.3,638.3 1383.7,663.1 1387.2,671.9 C1390.7,680.7 1395.3,674.5 1398.8,676.0 C1402.3,677.5 1405.7,678.6 1408.0,681.0 C1410.3,683.4 1410.0,685.5 1412.7,690.1 C1415.4,694.7 1420.4,702.4 1424.2,708.6 C1428.0,714.8 1431.9,727.6 1435.8,727.2 C1439.7,726.8 1443.5,713.6 1447.4,706.3 C1451.3,699.0 1455.5,690.9 1459.0,683.2 C1462.5,675.5 1465.6,668.1 1468.3,660.0 C1471.0,651.9 1472.5,640.9 1475.2,634.8 C1477.9,628.7 1481.0,623.6 1484.5,623.2 C1488.0,622.8 1492.2,630.6 1496.1,632.5 C1499.9,634.4 1504.5,628.6 1507.6,634.8 C1510.7,641.0 1513.0,661.1 1514.6,669.6 C1516.1,678.1 1515.0,681.3 1516.9,685.5 C1518.8,689.7 1522.5,690.3 1526.2,694.7 C1529.9,699.1 1535.1,712.1 1538.9,712.1 C1542.8,712.1 1545.6,701.5 1549.3,694.7 C1553.0,688.0 1557.4,677.0 1560.9,671.6 C1564.4,666.2 1567.1,662.3 1570.2,662.3 C1573.3,662.3 1576.4,665.0 1579.5,671.6 C1582.6,678.2 1586.0,695.3 1588.7,701.7 C1591.4,708.1 1592.6,712.1 1595.7,709.8 C1598.8,707.5 1604.2,696.1 1607.3,687.8 C1610.3,679.5 1612.0,668.8 1614.0,660.0 C1616.0,651.2 1617.4,640.3 1619.0,635.0 C1620.6,629.7 1621.6,626.1 1623.5,628.0 C1625.4,629.9 1628.3,636.1 1630.4,646.4 C1632.5,656.7 1634.4,678.1 1636.0,690.0 C1637.6,701.9 1637.8,708.5 1640.0,718.0 C1642.2,727.5 1646.0,745.1 1649.0,747.0 C1652.0,748.9 1655.1,736.3 1658.2,729.5 C1661.3,722.7 1664.0,712.1 1667.5,706.3 C1671.0,700.5 1675.2,697.8 1679.1,694.7 C1683.0,691.6 1687.2,690.2 1690.7,687.8 C1694.2,685.3 1698.5,681.3 1700.0,680.0" stroke="#72bdb8"/>
<path d="M65.0,232.0 C67.7,231.9 74.7,233.2 81.0,231.5 C87.3,229.8 95.8,225.5 103.0,222.0 C110.2,218.5 117.7,213.3 124.0,210.5 C130.3,207.7 135.0,207.7 141.0,205.0 C147.0,202.3 153.5,197.9 160.0,194.5 C166.5,191.1 174.9,186.5 180.0,184.5 C185.1,182.5 187.3,181.6 190.5,182.5 C193.7,183.4 196.1,184.8 199.0,190.0 C201.9,195.2 205.2,204.3 207.7,213.5 C210.2,222.7 211.5,232.6 214.0,245.0 C216.5,257.4 219.8,271.8 222.6,288.0 C225.4,304.2 228.5,324.2 231.0,342.0 C233.5,359.8 235.6,377.0 237.6,395.0 C239.6,413.0 241.3,432.5 243.0,450.0 C244.7,467.5 246.3,485.0 248.0,500.0 C249.7,515.0 251.2,529.0 253.0,540.0 C254.8,551.0 256.7,559.1 259.0,566.0 C261.3,572.9 264.3,579.6 267.0,581.6 C269.7,583.6 272.2,581.1 275.0,578.0 C277.8,574.9 280.5,575.2 283.5,563.0 C286.5,550.8 289.3,524.3 292.8,505.0 C296.3,485.7 301.0,464.5 304.5,447.0 C308.0,429.5 311.3,412.5 313.8,400.0 C316.3,387.5 317.6,379.8 319.5,372.0 C321.4,364.2 323.8,356.2 325.5,353.5 C327.2,350.8 328.1,350.8 330.0,356.0 C331.9,361.2 334.8,372.7 337.0,385.0 C339.2,397.3 341.2,415.0 343.0,430.0 C344.8,445.0 346.3,458.3 348.0,475.0 C349.7,491.7 351.7,512.8 353.4,530.0 C355.1,547.2 356.4,566.0 358.0,578.0 C359.6,590.0 361.0,598.8 362.7,602.0 C364.4,605.2 366.1,601.5 368.0,597.0 C369.9,592.5 372.1,582.0 374.3,575.0 C376.5,568.0 378.6,562.8 381.0,555.0 C383.4,547.2 386.2,537.7 388.5,528.0 C390.8,518.3 392.6,508.7 395.0,497.0 C397.4,485.3 400.7,469.2 403.0,458.0 C405.3,446.8 406.6,439.7 409.0,430.0 C411.4,420.3 413.9,408.2 417.7,400.0 C421.5,391.8 427.3,388.2 431.6,381.0 C435.9,373.8 439.8,365.8 443.3,357.0 C446.8,348.2 450.1,336.0 452.6,328.0 C455.2,320.0 456.6,313.3 458.6,309.0 C460.6,304.7 462.5,299.8 464.5,302.0 C466.5,304.2 469.0,312.0 470.5,322.0 C472.0,332.0 472.4,347.3 473.5,362.0 C474.6,376.7 475.4,392.3 477.0,410.0 C478.6,427.7 480.8,448.5 483.0,468.0 C485.2,487.5 488.1,511.3 490.0,527.0 C491.9,542.7 493.2,551.5 494.5,562.0 C495.8,572.5 496.2,589.3 497.5,590.0 C498.8,590.7 500.6,576.8 502.2,566.3 C503.8,555.8 505.6,537.6 506.9,527.1 C508.2,516.6 507.9,507.7 510.0,503.5 C512.1,499.3 517.0,504.6 519.4,502.0 C521.8,499.4 522.1,496.8 524.1,487.8 C526.1,478.9 528.6,459.2 531.2,448.3 C533.8,437.4 537.2,429.7 539.7,422.6 C542.2,415.5 543.6,409.2 546.1,405.5 C548.6,401.8 551.5,399.5 554.7,400.2 C557.9,400.9 562.2,413.2 565.4,409.8 C568.6,406.4 570.4,388.4 574.0,379.8 C577.6,371.2 583.6,362.8 586.8,358.4 C590.0,353.9 590.7,352.7 593.2,353.1 C595.7,353.5 599.5,356.7 601.8,360.6 C604.1,364.5 605.0,366.0 607.0,376.4 C609.0,386.8 612.1,411.4 614.0,423.0 C615.9,434.6 616.3,445.5 618.6,446.3 C620.9,447.1 624.9,437.3 628.0,427.6 C631.1,417.9 634.2,399.6 637.3,388.0 C640.4,376.4 643.1,367.5 646.6,357.8 C650.1,348.1 654.3,337.4 658.2,329.8 C662.1,322.2 666.3,313.2 669.8,312.4 C673.3,311.6 676.5,320.1 679.2,325.2 C681.9,330.2 683.4,343.9 686.1,342.7 C688.8,341.5 692.8,325.8 695.5,318.2 C698.2,310.6 700.1,302.0 702.4,297.3 C704.6,292.6 706.7,291.6 709.0,290.0 C711.3,288.4 714.0,285.1 716.4,287.9 C718.8,290.7 721.5,295.7 723.4,306.6 C725.3,317.5 726.5,337.6 728.0,353.1 C729.5,368.6 731.1,384.2 732.7,399.7 C734.3,415.2 736.2,435.4 737.4,446.3 C738.6,457.2 738.6,462.9 739.7,464.9 C740.8,466.8 742.5,460.3 744.0,458.0 C745.5,455.7 747.4,447.0 749.0,450.9 C750.6,454.8 751.8,468.4 753.7,481.2 C755.7,494.0 758.0,515.4 760.7,527.8 C763.4,540.2 766.5,555.7 770.0,555.7 C773.5,555.7 777.7,536.7 781.6,527.8 C785.5,518.9 789.8,502.9 793.3,502.1 C796.8,501.3 799.9,513.8 802.6,523.1 C805.3,532.4 807.2,549.9 809.5,558.0 C811.8,566.1 814.2,575.1 816.5,572.0 C818.8,568.9 821.2,554.5 823.5,539.4 C825.8,524.3 828.5,492.8 830.5,481.2 C832.5,469.6 833.3,469.1 835.2,469.5 C837.1,469.9 839.8,471.9 842.1,483.5 C844.4,495.1 846.8,523.3 849.1,539.4 C851.4,555.5 854.2,567.7 856.1,580.0 C858.0,592.3 858.9,602.9 860.8,613.1 C862.7,623.3 864.8,633.3 867.7,641.1 C870.6,648.9 874.7,658.6 878.2,659.7 C881.7,660.9 885.0,655.8 888.7,648.0 C892.4,640.2 897.2,622.0 900.3,613.1 C903.4,604.2 903.8,598.0 907.3,594.5 C910.8,591.0 917.8,596.9 921.3,592.2 C924.8,587.6 926.0,577.3 928.3,566.6 C930.6,555.9 933.0,538.1 935.3,527.8 C937.6,517.5 939.7,510.1 942.0,505.0 C944.3,499.9 946.4,495.6 949.2,497.5 C952.0,499.4 955.9,505.2 958.6,516.1 C961.3,527.0 963.2,546.1 965.5,562.7 C967.8,579.3 969.8,611.0 972.5,615.5 C975.2,620.0 979.4,595.4 981.8,589.8 C984.2,584.2 985.0,583.6 987.0,581.9 C989.0,580.2 991.3,582.6 994.0,579.5 C996.7,576.4 1000.2,562.0 1003.3,563.2 C1006.4,564.4 1009.7,577.6 1012.6,586.5 C1015.5,595.4 1018.0,616.8 1020.7,616.8 C1023.4,616.8 1025.8,593.5 1028.9,586.5 C1032.0,579.5 1035.9,574.9 1039.4,574.9 C1042.9,574.9 1046.3,584.2 1049.8,586.5 C1053.3,588.8 1057.6,592.0 1060.3,588.9 C1063.0,585.8 1064.0,579.2 1066.1,567.9 C1068.2,556.6 1070.8,533.7 1073.1,521.3 C1075.4,508.9 1077.2,501.5 1080.1,493.4 C1083.0,485.2 1087.5,472.4 1090.6,472.4 C1093.7,472.4 1096.2,485.2 1098.7,493.4 C1101.2,501.5 1103.4,522.5 1105.7,521.3 C1108.0,520.1 1110.4,500.0 1112.7,486.4 C1115.0,472.8 1117.0,452.2 1119.7,439.8 C1122.4,427.4 1125.3,419.5 1129.0,411.9 C1132.7,404.3 1138.3,394.8 1141.8,394.4 C1145.3,394.0 1147.5,398.9 1150.0,409.6 C1152.5,420.3 1154.7,446.5 1157.0,458.5 C1159.3,470.5 1161.6,483.0 1163.9,481.8 C1166.2,480.6 1168.6,452.7 1170.9,451.5 C1173.2,450.3 1175.6,464.3 1177.9,474.8 C1180.2,485.3 1182.6,514.4 1184.9,514.4 C1187.2,514.4 1189.6,489.2 1191.9,474.8 C1194.2,460.4 1196.0,439.1 1198.9,428.2 C1201.8,417.3 1205.4,411.5 1209.3,409.6 C1213.2,407.7 1218.4,414.7 1222.1,416.6 C1225.8,418.5 1228.8,413.4 1231.5,421.2 C1234.2,428.9 1236.5,444.5 1238.4,463.1 C1240.3,481.7 1241.9,519.0 1243.1,533.0 C1244.3,547.0 1243.9,550.9 1245.4,547.0 C1247.0,543.1 1250.1,520.2 1252.4,509.7 C1254.7,499.2 1255.9,489.9 1259.4,484.1 C1262.9,478.3 1269.9,480.2 1273.4,474.8 C1276.9,469.4 1278.1,461.2 1280.4,451.5 C1282.7,441.8 1285.6,423.6 1287.3,416.6 C1289.0,409.6 1289.2,405.7 1290.8,409.6 C1292.3,413.5 1294.8,423.1 1296.6,439.8 C1298.3,456.5 1299.9,485.5 1301.3,509.7 C1302.7,533.9 1304.0,566.8 1305.0,585.0 C1306.0,603.2 1306.1,613.3 1307.0,619.0 C1307.9,624.7 1309.5,623.8 1310.5,619.0 C1311.5,614.2 1312.4,599.8 1313.3,590.0 C1314.2,580.2 1314.5,575.3 1316.0,560.0 C1317.5,544.7 1320.0,517.3 1322.3,498.1 C1324.6,478.9 1327.3,458.9 1330.0,445.0 C1332.7,431.1 1335.5,422.1 1338.5,414.7 C1341.5,407.3 1344.3,403.6 1347.8,400.8 C1351.3,398.0 1355.9,397.6 1359.4,398.0 C1362.9,398.4 1365.9,396.6 1368.6,403.2 C1371.3,409.8 1373.7,422.5 1375.6,437.9 C1377.5,453.3 1378.7,477.7 1380.2,495.8 C1381.8,514.0 1383.0,535.6 1384.9,546.8 C1386.8,558.0 1389.1,561.5 1391.8,563.0 C1394.5,564.5 1398.0,554.9 1401.1,556.1 C1404.2,557.3 1406.8,564.6 1410.3,570.0 C1413.8,575.4 1417.7,581.4 1421.9,588.5 C1426.2,595.6 1431.5,612.0 1435.8,612.8 C1440.0,613.6 1443.5,601.0 1447.4,593.1 C1451.3,585.2 1455.5,577.6 1459.0,565.3 C1462.5,552.9 1465.6,532.5 1468.3,519.0 C1471.0,505.5 1472.9,491.9 1475.2,484.2 C1477.5,476.5 1479.5,471.9 1482.2,472.7 C1484.9,473.5 1488.7,482.7 1491.4,488.9 C1494.1,495.1 1495.7,506.6 1498.4,509.7 C1501.1,512.8 1504.9,502.0 1507.6,507.4 C1510.3,512.8 1512.7,531.8 1514.6,542.2 C1516.5,552.6 1516.9,564.2 1519.2,570.0 C1521.5,575.8 1525.2,572.3 1528.5,576.9 C1531.8,581.5 1535.4,597.8 1538.9,597.8 C1542.4,597.8 1546.0,586.2 1549.3,576.9 C1552.6,567.6 1555.5,552.2 1558.6,542.2 C1561.7,532.2 1564.4,519.0 1567.9,516.7 C1571.4,514.4 1576.4,522.1 1579.5,528.3 C1582.6,534.5 1583.5,542.9 1586.4,553.7 C1589.3,564.5 1594.1,595.0 1596.8,593.1 C1599.5,591.2 1600.8,562.3 1602.6,542.2 C1604.3,522.1 1605.0,487.0 1607.3,472.7 C1609.6,458.4 1613.0,456.4 1616.5,456.4 C1620.0,456.4 1625.0,464.2 1628.1,472.7 C1631.2,481.2 1633.2,492.0 1635.1,507.4 C1637.0,522.8 1638.2,547.9 1639.7,565.3 C1641.2,582.7 1642.6,602.1 1644.3,611.7 C1646.0,621.4 1647.4,624.0 1650.1,623.2 C1652.8,622.4 1657.6,614.7 1660.5,607.0 C1663.4,599.3 1664.8,585.0 1667.5,576.9 C1670.2,568.8 1673.7,561.9 1676.8,558.4 C1679.9,554.9 1683.3,558.0 1686.0,556.1 C1688.7,554.2 1690.7,548.0 1693.0,546.8 C1695.3,545.6 1698.8,548.7 1700.0,549.1" stroke="#000"/>
</g>
<rect x="65" y="25" width="1635" height="1195" fill="none" stroke="#000" stroke-width="5.8"/>
<line x1="63" y1="1220" x2="1702" y2="1220" stroke="#000" stroke-width="6.5"/>
<line x1="65.0" y1="1220" x2="65.0" y2="1243" stroke="#000" stroke-width="5"/>
<line x1="348.5" y1="1220" x2="348.5" y2="1243" stroke="#000" stroke-width="5"/>
<line x1="633.8" y1="1220" x2="633.8" y2="1243" stroke="#000" stroke-width="5"/>
<line x1="917.8" y1="1220" x2="917.8" y2="1243" stroke="#000" stroke-width="5"/>
<line x1="1203.0" y1="1220" x2="1203.0" y2="1243" stroke="#000" stroke-width="5"/>
<line x1="1489.4" y1="1220" x2="1489.4" y2="1243" stroke="#000" stroke-width="5"/>
<line x1="207.0" y1="1220" x2="207.0" y2="1231" stroke="#000" stroke-width="4.5"/>
<line x1="492.5" y1="1220" x2="492.5" y2="1231" stroke="#000" stroke-width="4.5"/>
<line x1="776.0" y1="1220" x2="776.0" y2="1231" stroke="#000" stroke-width="4.5"/>
<line x1="1061.7" y1="1220" x2="1061.7" y2="1231" stroke="#000" stroke-width="4.5"/>
<line x1="1347.7" y1="1220" x2="1347.7" y2="1231" stroke="#000" stroke-width="4.5"/>
<line x1="1631.7" y1="1220" x2="1631.7" y2="1231" stroke="#000" stroke-width="4.5"/>
<g font-family="Liberation Serif, serif" fill="#000">
<text transform="translate(65.0,1297.0) scale(1.100,1)" font-size="51.0" text-anchor="middle">1800</text>
<text transform="translate(348.5,1297.0) scale(1.100,1)" font-size="51.0" text-anchor="middle">1600</text>
<text transform="translate(633.8,1297.0) scale(1.100,1)" font-size="51.0" text-anchor="middle">1400</text>
<text transform="translate(917.8,1297.0) scale(1.100,1)" font-size="51.0" text-anchor="middle">1200</text>
<text transform="translate(1203.0,1297.0) scale(1.100,1)" font-size="51.0" text-anchor="middle">1000</text>
<text transform="translate(1489.4,1297.0) scale(1.100,1)" font-size="51.0" text-anchor="middle">800</text>
<text transform="translate(645.0,1379.5) scale(1.066,1)" font-size="58.0" text-anchor="start">Wavenumbers (cm</text>
<text transform="translate(1119.0,1362.0) scale(1.050,1)" font-size="36.0" text-anchor="start">&#8722;</text>
<text transform="translate(1155.0,1362.0) scale(0.620,1)" font-size="40.0" text-anchor="start">1</text>
<text transform="translate(1171.0,1382.0) scale(1.000,1)" font-size="62.0" text-anchor="start">)</text>
</g>
<line x1="1287" y1="64.3" x2="1434" y2="64.3" stroke="#000" stroke-width="7.8" stroke-linecap="butt"/>
<g font-family="Liberation Serif, serif" fill="#000"><text transform="translate(1446.0,82.3) scale(1.100,1)" font-size="56.0" text-anchor="start">PPEK</text></g>
<line x1="1287" y1="132.2" x2="1434" y2="132.2" stroke="#72bdb8" stroke-width="7.8" stroke-linecap="butt"/>
<g font-family="Liberation Serif, serif" fill="#000"><text transform="translate(1446.0,150.2) scale(1.100,1)" font-size="56.0" text-anchor="start">SPPEK-1</text></g>
<line x1="1287" y1="202.7" x2="1434" y2="202.7" stroke="#dc7c58" stroke-width="7.8" stroke-linecap="butt"/>
<g font-family="Liberation Serif, serif" fill="#000"><text transform="translate(1446.0,220.7) scale(1.100,1)" font-size="56.0" text-anchor="start">SPPEK-2</text></g>
<line x1="1287" y1="272.3" x2="1434" y2="272.3" stroke="#ebbf35" stroke-width="7.8" stroke-linecap="butt"/>
<g font-family="Liberation Serif, serif" fill="#000"><text transform="translate(1446.0,290.3) scale(1.100,1)" font-size="56.0" text-anchor="start">SPPEK-3</text></g>
<line x1="1287" y1="341.5" x2="1434" y2="341.5" stroke="#17527f" stroke-width="7.8" stroke-linecap="butt"/>
<g font-family="Liberation Serif, serif" fill="#000"><text transform="translate(1446.0,359.5) scale(1.100,1)" font-size="56.0" text-anchor="start">SPPEK-4</text></g>
<line x1="284.5" y1="970.7" x2="259.4" y2="1027.5" stroke="#111" stroke-width="2.3" stroke-linecap="round" stroke-dasharray="0.1,5.6"/>
<polygon points="249.2,1056.4 252.0,1027.5 268.7,1032.2" fill="#000"/>
<g font-family="Liberation Serif, serif" fill="#000"><text transform="translate(234.0,1097.4) scale(1.100,1)" font-size="44.0" text-anchor="middle">1654</text></g>
<line x1="371.2" y1="1016.4" x2="399.1" y2="1070.4" stroke="#111" stroke-width="2.3" stroke-linecap="round" stroke-dasharray="0.1,5.6"/>
<polygon points="413.0,1103.0 392.6,1078.8 408.4,1074.1" fill="#000"/>
<g font-family="Liberation Serif, serif" fill="#000"><text transform="translate(417.0,1151.4) scale(1.100,1)" font-size="44.0" text-anchor="middle">1588</text></g>
<line x1="867.8" y1="1094.8" x2="855.7" y2="1123.6" stroke="#111" stroke-width="2.3" stroke-linecap="round" stroke-dasharray="0.1,5.6"/>
<polygon points="848.1,1149.3 849.6,1125.0 866.3,1123.6" fill="#000"/>
<g font-family="Liberation Serif, serif" fill="#000"><text transform="translate(844.0,1194.7) scale(1.100,1)" font-size="44.0" text-anchor="middle">1224</text></g>
<line x1="1088.7" y1="1079.7" x2="1087.2" y2="1113.0" stroke="#111" stroke-width="2.3" stroke-linecap="round" stroke-dasharray="0.1,5.6"/>
<polygon points="1081.2,1141.7 1076.6,1114.5 1091.7,1114.5" fill="#000"/>
<g font-family="Liberation Serif, serif" fill="#000"><text transform="translate(1062.0,1185.6) scale(1.100,1)" font-size="44.0" text-anchor="middle">1075</text></g>
<line x1="1185.6" y1="1064.5" x2="1202.2" y2="1105.4" stroke="#111" stroke-width="2.3" stroke-linecap="round" stroke-dasharray="0.1,5.6"/>
<polygon points="1215.8,1132.6 1197.7,1108.4 1212.8,1102.4" fill="#000"/>
<g font-family="Liberation Serif, serif" fill="#000"><text transform="translate(1244.0,1176.5) scale(1.100,1)" font-size="44.0" text-anchor="middle">1020</text></g>
</svg></body></html>
